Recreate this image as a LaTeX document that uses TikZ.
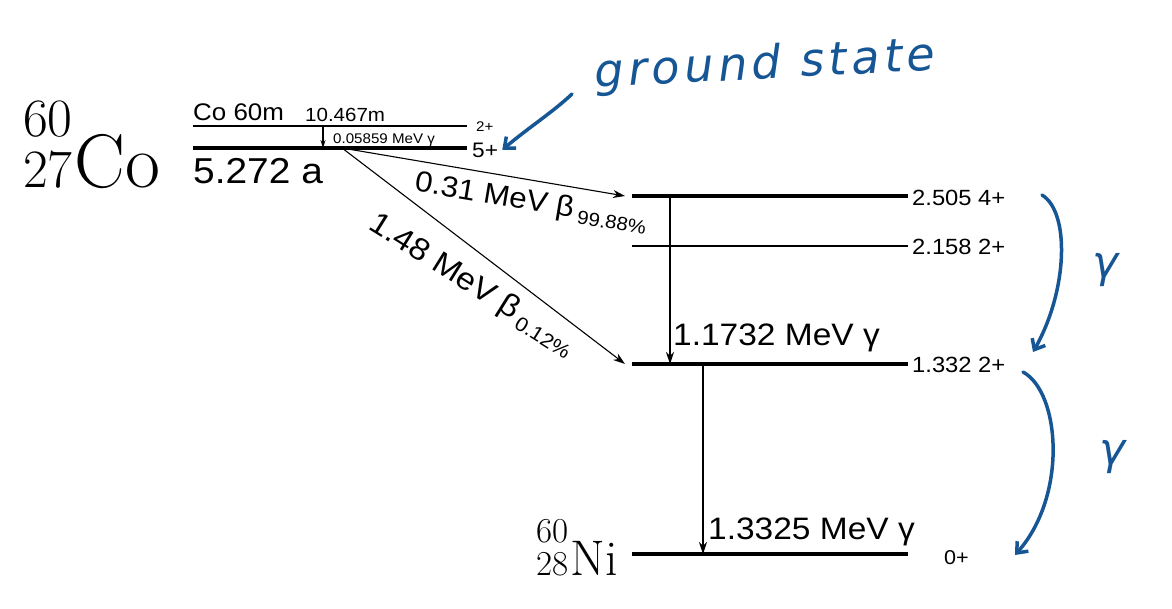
\documentclass[tikz,border=0pt]{standalone}
\usepackage[no-math]{fontspec}
\usetikzlibrary{arrows.meta}
\newfontfamily\labfont[FakeStretch=1.08]{Liberation Sans}
\newfontfamily\handfont[LetterSpace=10]{DejaVu Sans}
\newcommand\lsize[1]{\fontsize{#1}{#1}\selectfont}
\definecolor{inkblue}{RGB}{22,86,148}
\tikzset{
  level/.style={line width=4pt},
  thinlevel/.style={line width=1.6pt},
  trans/.style={line width=1.1pt,-{Stealth[length=12pt,width=8pt]}},
  lab/.style={font=\labfont,inner sep=0pt},
  ink/.style={draw=inkblue,line width=3.5pt,line cap=round,-{Straight Barb[length=9pt,width=15pt]}},
  inktext/.style={font=\handfont\itshape,text=inkblue,inner sep=0pt},
}

\begin{document}
\begin{tikzpicture}[x=1pt,y=-1pt]
\useasboundingbox (0,0) rectangle (1172,608);

% parent 60Co and its isomer
\node[anchor=base west,inner sep=0pt] (cobalt) at (23,187) {\fontsize{54}{45}\selectfont\begin{tabular}[b]{@{}r@{}}60\\27\end{tabular}\hspace{2pt}\lsize{76}Co};
\coordinate (com-w) at (193,126);
\coordinate (com-e) at (467,126);
\coordinate (co-w) at (193,148);
\coordinate (co-e) at (467,148);
\draw[line width=2pt] (com-w) -- (com-e);
\draw[level] (co-w) -- (co-e);
\node[lab,anchor=base west] (com-name) at (193,120) {\lsize{24}Co 60m};
\node[lab,anchor=base west] (com-half) at (305,121) {\lsize{19}10.467m};
\node[lab,anchor=base west] (com-spin) at (476,131) {\lsize{14}2+};
\node[lab,anchor=base west] (co-spin) at (472,157) {\lsize{21}5+};
\node[lab,anchor=base west] (co-half) at (193,183) {\lsize{36}5.272 a};

% isomeric transition
\coordinate (it-top) at (323,126);
\coordinate (it-bot) at (323,148);
\draw[trans,-{Stealth[length=8pt,width=5pt]}] (it-top) -- (it-bot);
\node[lab,anchor=base west] (it-lab) at (333,143) {\lsize{14}0.05859 MeV γ};

% levels of 60Ni
\node[anchor=base east,inner sep=0pt] (nickel) at (618,575) {\fontsize{35}{30}\selectfont\begin{tabular}[b]{@{}r@{}}60\\28\end{tabular}\hspace{2pt}\lsize{50}Ni};
\coordinate (l4-w) at (632,196);
\coordinate (l4-e) at (908,196);
\coordinate (l2-w) at (632,246);
\coordinate (l2-e) at (908,246);
\coordinate (l1-w) at (632,364);
\coordinate (l1-e) at (908,364);
\coordinate (l0-w) at (632,554);
\coordinate (l0-e) at (908,554);
\draw[level] (l4-w) -- (l4-e);
\draw[thinlevel] (l2-w) -- (l2-e);
\draw[level] (l1-w) -- (l1-e);
\draw[level] (l0-w) -- (l0-e);
\node[lab,anchor=base west] (l4-lab) at (912,205) {\lsize{22}2.505 4+};
\node[lab,anchor=base west] (l2-lab) at (912,254) {\lsize{22}2.158 2+};
\node[lab,anchor=base west] (l1-lab) at (912,372) {\lsize{22}1.332 2+};
\node[lab,anchor=base west] (l0-lab) at (944,564) {\lsize{20}0+};

% beta branches
\coordinate (beta) at (342,148);
\draw[trans] (beta) -- ([xshift=-7pt]l4-w);
\draw[trans] (beta) -- ([xshift=-7pt]l1-w);
\node[lab,rotate=-9.5] (b1-lab) at (531,203) {\lsize{29}0.31 MeV β\,\raisebox{-5pt}{\lsize{19}99.88\%}};
\node[lab,rotate=-32] (b2-lab) at (472,285) {\lsize{31}1.48 MeV β\hspace{4pt}\raisebox{-6pt}{\lsize{20}0.12\%}};

% gamma cascade
\coordinate (g1-top) at (670,196);
\coordinate (g1-bot) at (670,364);
\coordinate (g2-top) at (703,364);
\coordinate (g2-bot) at (703,554);
\draw[trans] (g1-top) -- (g1-bot);
\draw[trans] (g2-top) -- (g2-bot);
\node[lab,anchor=base west] (g1-lab) at (673,345) {\lsize{31}1.1732 MeV γ};
\node[lab,anchor=base west] (g2-lab) at (708,539) {\lsize{31}1.3325 MeV γ};

% hand notes
\node[inktext,rotate=3] (gs) at (765,66) {\lsize{46}ground state};
\coordinate (gs-tail) at (572,94);
\draw[ink] (gs-tail) .. controls (553,112) and (528,128) .. ([xshift=4pt]co-spin.east);
\coordinate (c1-from) at (1042,195);
\coordinate (c1-to) at (1033,352);
\draw[ink] (c1-from) .. controls (1070,212) and (1068,290) .. (c1-to);
\node[inktext] (c1-lab) at (1106,270) {\lsize{44}γ};
\coordinate (c2-from) at (1023,372);
\coordinate (c2-to) at (1015,555);
\draw[ink] (c2-from) .. controls (1060,392) and (1068,495) .. (c2-to);
\node[inktext] (c2-lab) at (1113,457) {\lsize{44}γ};
\end{tikzpicture}
\end{document}
